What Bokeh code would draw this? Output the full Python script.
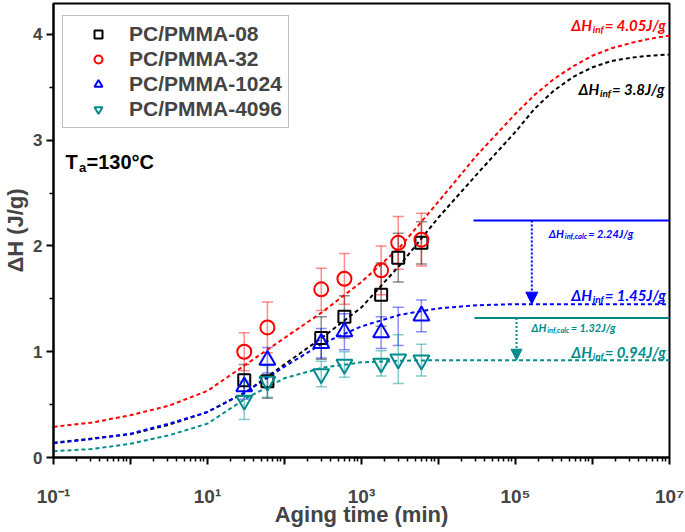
import math
from bokeh.plotting import figure
from bokeh.models import (FixedTicker, Label, Legend, LegendItem, Whisker, TeeHead,
                          Arrow, NormalHead, ColumnDataSource, CustomJSTickFormatter)
from bokeh.embed import file_html
from bokeh.resources import INLINE

# ---------------- data ----------------
aging_time = [30, 60, 300, 600, 1800, 3000, 6000]

pc08 = [0.73, 0.72, 1.13, 1.33, 1.54, 1.89, 2.03]
pc08_err = [0.15, 0.16, 0.20, 0.20, 0.30, 0.23, 0.20]

pc32 = [1.00, 1.23, 1.59, 1.69, 1.77, 2.03, 2.06]
pc32_err = [0.18, 0.24, 0.20, 0.24, 0.23, 0.25, 0.25]

pc1024_time = [30, 60, 300, 600, 1800, 6000]
pc1024 = [0.67, 0.92, 1.08, 1.19, 1.18, 1.34]
pc1024_bar = [0.67, 0.92, 1.08, 1.19, 1.18, 1.24, 1.34]
pc1024_err = [0.12, 0.12, 0.14, 0.17, 0.15, 0.18, 0.15]

pc4096 = [0.54, 0.72, 0.79, 0.88, 0.89, 0.93, 0.92]
pc4096_err = [0.18, 0.15, 0.12, 0.12, 0.12, 0.23, 0.15]

fit_time = [0.1, 0.316, 1, 3.16, 10, 31.6, 100, 316, 1000, 3162, 10000, 31623,
            100000, 177828, 316228, 562341, 1000000, 1778279, 3162278, 5623413, 10000000]
fit_08 = [0.14, 0.18, 0.22, 0.31, 0.43, 0.62, 0.88, 1.14, 1.42, 1.82, 2.27, 2.68,
          3.08, 3.30, 3.47, 3.60, 3.69, 3.75, 3.78, 3.80, 3.81]
fit_32 = [0.29, 0.33, 0.40, 0.49, 0.63, 0.88, 1.13, 1.38, 1.66, 1.99, 2.42, 2.86,
          3.25, 3.43, 3.58, 3.70, 3.80, 3.87, 3.92, 3.96, 3.99]
fit_1024 = [0.135, 0.175, 0.225, 0.32, 0.43, 0.62, 0.86, 1.08, 1.24, 1.35, 1.41, 1.44,
            1.45, 1.45, 1.45, 1.45, 1.45, 1.45, 1.45, 1.45, 1.45]
fit_4096 = [0.06, 0.08, 0.13, 0.21, 0.32, 0.56, 0.75, 0.85, 0.90, 0.915, 0.92, 0.92,
            0.92, 0.92, 0.92, 0.92, 0.92, 0.92, 0.92, 0.92, 0.92]

series_names = ["PC/PMMA-08", "PC/PMMA-32", "PC/PMMA-1024", "PC/PMMA-4096"]
dh_inf = [3.8, 4.05, 1.45, 0.94]
dh_inf_text = ["3.8", "4.05", "1.45", "0.94"]
dh_calc = [2.24, 1.32]          # PC/PMMA-1024, PC/PMMA-4096
dh_calc_text = ["2.24", "1.32"]
x_major = [0.1, 1, 10, 100, 1000, 1e4, 1e5, 1e6, 1e7]
x_tick_labels = ["10\u207b\u00b9", "", "10\u00b9", "", "10\u00b3", "", "10\u2075", "", "10\u2077"]
y_major = [0, 1, 2, 3, 4]
y_minor = [0.5, 1.5, 2.5, 3.5]

# ---------------- styles ----------------
RED = "#ff0000"
BLACK = "#000000"
BLUE = "#0000ff"
TEAL = "#008b8b"
SANS = "Liberation Sans"
ANN = "Lato"


# reference-pixel -> data helpers for annotation placement
def xd(px):
    return 10 ** (-1 + (px - 54) / 77.0)


def yd(py):
    return (457 - py) / 105.75


p = figure(frame_width=616, frame_height=454, x_axis_type="log",
           x_range=(0.1, 1e7), y_range=(0, 4.293),
           output_backend="svg", toolbar_location=None,
           min_border_left=46, min_border_right=15, min_border_top=3,
           min_border_bottom=72)
p.xgrid.visible = False
p.ygrid.visible = False
p.outline_line_color = "black"
p.outline_line_width = 2
p.outline_line_alpha = 1.0
p.background_fill_color = "white"

# x axis
xa = p.xaxis[0]
xa.ticker = FixedTicker(ticks=x_major,
                        minor_ticks=[m * 10.0 ** k for k in range(-1, 7) for m in range(2, 10)])
xa.formatter = CustomJSTickFormatter(args=dict(tick_vals=x_major, tick_text=x_tick_labels), code="""
for (let i = 0; i < tick_vals.length; i++) {
  if (Math.abs(Math.log10(tick_vals[i]) - Math.log10(tick)) < 1e-6) { return tick_text[i]; }
}
return "";
""")
xa.major_label_text_font = SANS
xa.major_label_text_font_style = "bold"
xa.major_label_text_font_size = "19px"
xa.major_label_standoff = 21
xa.axis_line_width = 2
xa.major_tick_line_width = 2
xa.minor_tick_line_width = 1.5
xa.major_tick_out = 7
xa.major_tick_in = 0
xa.minor_tick_out = 4
xa.minor_tick_in = 0
xa.axis_label = "Aging time (min)"
xa.axis_label_text_font = SANS
xa.axis_label_text_font_style = "bold"
xa.axis_label_text_font_size = "22px"
xa.axis_label_standoff = -8

# y axis
ya = p.yaxis[0]
ya.ticker = FixedTicker(ticks=y_major, minor_ticks=y_minor)
ya.major_label_text_font = SANS
ya.major_label_text_font_style = "bold"
ya.major_label_text_font_size = "17px"
ya.major_label_standoff = 4
ya.axis_line_width = 2
ya.major_tick_line_width = 2
ya.minor_tick_line_width = 1.5
ya.major_tick_out = 7
ya.major_tick_in = 0
ya.minor_tick_out = 4
ya.minor_tick_in = 0
ya.axis_label = "ΔH (J/g)"
ya.axis_label_text_font = SANS
ya.axis_label_text_font_style = "bold"
ya.axis_label_text_font_size = "22px"
ya.axis_label_standoff = 2

# fit curves
p.line(fit_time, fit_32, line_color=RED, line_width=2, line_dash="4 3")
p.line(fit_time, fit_08, line_color=BLACK, line_width=2, line_dash="4 3")
p.line(fit_time, fit_1024, line_color=BLUE, line_width=2, line_dash="4 3")
p.line(fit_time, fit_4096, line_color=TEAL, line_width=2, line_dash="4 3")


def add_bars(yvals, errs, color):
    src = ColumnDataSource(dict(x=aging_time,
                                lower=[v - e for v, e in zip(yvals, errs)],
                                upper=[v + e for v, e in zip(yvals, errs)]))
    w = Whisker(source=src, base="x", lower="lower", upper="upper",
                line_color=color, line_alpha=0.45, line_width=1.5,
                upper_head=TeeHead(size=11, line_color=color, line_alpha=0.45, line_width=1.5),
                lower_head=TeeHead(size=11, line_color=color, line_alpha=0.45, line_width=1.5))
    p.add_layout(w)


add_bars(pc08, pc08_err, BLACK)
add_bars(pc32, pc32_err, RED)
add_bars(pc1024_bar, pc1024_err, BLUE)
add_bars(pc4096, pc4096_err, TEAL)

r08 = p.scatter(aging_time, pc08, marker="square", size=12, line_color=BLACK,
                fill_color=None, line_width=2)
r32 = p.scatter(aging_time, pc32, marker="circle", size=14, line_color=RED,
                fill_color=None, line_width=2)
r1024 = p.scatter(pc1024_time, pc1024, marker="triangle", size=16, line_color=BLUE,
                  fill_color=None, line_width=2)
r4096 = p.scatter(aging_time, pc4096, marker="inverted_triangle", size=16, line_color=TEAL,
                  fill_color=None, line_width=2)

legend = Legend(items=[LegendItem(label=series_names[0], renderers=[r08]),
                       LegendItem(label=series_names[1], renderers=[r32]),
                       LegendItem(label=series_names[2], renderers=[r1024]),
                       LegendItem(label=series_names[3], renderers=[r4096])],
                location=(9, 329))
legend.border_line_color = "#808080"
legend.border_line_width = 1
legend.background_fill_alpha = 1.0
legend.label_text_font = SANS
legend.label_text_font_style = "bold"
legend.label_text_font_size = "21px"
legend.padding = 6
legend.spacing = 1
legend.label_height = 20
legend.glyph_height = 20
legend.glyph_width = 58
legend.label_standoff = 2
legend.margin = 0
p.add_layout(legend)


def txt(px, py, text, size, color, font=SANS, style="bold", align="left"):
    p.add_layout(Label(x=xd(px), y=yd(py), text=text, text_font=font,
                       text_font_style=style, text_font_size=f"{size}px",
                       text_color=color, text_align=align, text_baseline="alphabetic"))


# T_a label
txt(66, 161.7, "T", 20, "black")
txt(79.5, 167.5, "a", 13, "black")
txt(87, 161.7, "=130°C", 20, "black")


def big_label(px, py, value_text, color):
    txt(px, py, "ΔH", 15, color, font=ANN, style="bold italic")
    txt(px + 21.5, py + 3.5, "inf", 10, color, font=ANN, style="bold italic")
    txt(px + 33.5, py, "= " + value_text + "J/g", 15, color, font=ANN, style="bold italic")


def small_label(px, py, value_text, color):
    txt(px, py, "ΔH", 11, color, font=ANN, style="bold italic")
    txt(px + 16, py + 2.7, "inf,calc", 7.5, color, font=ANN, style="bold italic")
    txt(px + 39.5, py, "= " + value_text + "J/g", 11, color, font=ANN, style="bold italic")


big_label(571.7, 25, dh_inf_text[1], RED)
big_label(579, 89, dh_inf_text[0], BLACK)
big_label(571.7, 295, dh_inf_text[2], BLUE)
big_label(571.7, 352, dh_inf_text[3], TEAL)
small_label(549.3, 233.3, dh_calc_text[0], BLUE)
small_label(531.7, 327, dh_calc_text[1], TEAL)

# calculated plateau lines
p.segment(x0=[xd(474)], y0=[dh_calc[0]], x1=[1e7], y1=[dh_calc[0]], line_color=BLUE, line_width=2)
p.segment(x0=[xd(475)], y0=[dh_calc[1]], x1=[1e7], y1=[dh_calc[1]], line_color=TEAL, line_width=2)

# arrows from calculated to fitted plateau
p.add_layout(Arrow(x_start=xd(532.3), y_start=dh_calc[0], x_end=xd(532.3), y_end=dh_inf[2],
                   line_color=BLUE, line_width=2, line_dash="2 2",
                   end=NormalHead(size=12, fill_color=BLUE, line_color=BLUE, line_width=1)))
p.add_layout(Arrow(x_start=xd(517), y_start=dh_calc[1], x_end=xd(517), y_end=dh_inf[3] - 0.02,
                   line_color=TEAL, line_width=2, line_dash="2 2",
                   end=NormalHead(size=11, fill_color=TEAL, line_color=TEAL, line_width=1)))

open("out.html", "w").write(file_html(p, INLINE))
